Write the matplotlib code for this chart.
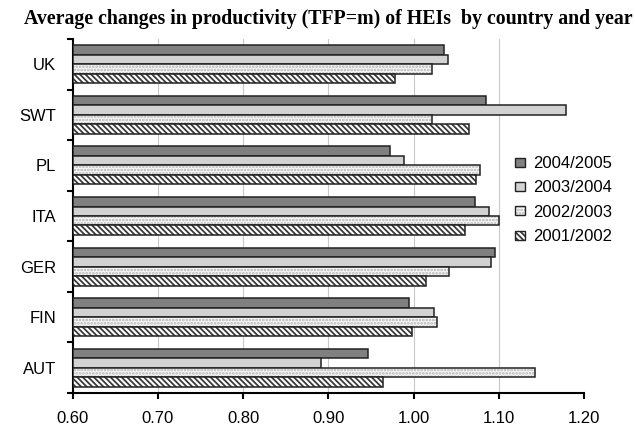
import numpy as np
import matplotlib
matplotlib.use('Agg')
import matplotlib.pyplot as plt

# data (top to bottom)
countries = ['UK', 'SWT', 'PL', 'ITA', 'GER', 'FIN', 'AUT']
years = ['2004/2005', '2003/2004', '2002/2003', '2001/2002']
v_2004_2005 = [1.036, 1.085, 0.972, 1.072, 1.095, 0.995, 0.947]
v_2003_2004 = [1.040, 1.179, 0.989, 1.088, 1.091, 1.024, 0.891]
v_2002_2003 = [1.022, 1.022, 1.078, 1.100, 1.041, 1.028, 1.142]
v_2001_2002 = [0.978, 1.065, 1.073, 1.060, 1.015, 0.998, 0.964]
series = [v_2004_2005, v_2003_2004, v_2002_2003, v_2001_2002]

plt.rcParams['font.family'] = ['Liberation Sans', 'DejaVu Sans']
plt.rcParams['hatch.linewidth'] = 1.3

fig = plt.figure(figsize=(6.35, 4.29), dpi=100)
ax = fig.add_axes([72.7 / 635, 1 - 393 / 429, (584 - 72.7) / 635, (393 - 39) / 429])

# face colour, hatch, hatch colour
styles = [
    ('#808080', None, None),
    ('#d2d2d2', None, None),
    ('#f7f7f7', '.....', '#b4b4b4'),
    ('white', '\\' * 6, '#3a3a3a'),
]

n = len(countries)
h = 0.1875
base = np.arange(n)  # 0 = UK at top after inverting
for i, (vals, (fc, hatch, hc)) in enumerate(zip(series, styles)):
    y = base - 1.5 * h + i * h
    bars = ax.barh(y, np.array(vals) - 0.6, left=0.6, height=h,
                   color=fc, edgecolor='#222222', linewidth=1.1,
                   label=years[i], zorder=3)
    if hatch:
        for b in bars:
            b.set_hatch(hatch)
            b._hatch_color = matplotlib.colors.to_rgba(hc)

ax.set_ylim(n - 0.5, -0.5)
ax.set_xlim(0.6, 1.2)
xt = np.arange(0.6, 1.21, 0.1)
ax.set_xticks(xt)
ax.set_xticklabels(['%.2f' % t for t in xt], fontsize=12)
ax.set_yticks(base)
ax.set_yticklabels(countries, fontsize=12)
ax.set_yticks(np.arange(-0.5, n, 1), minor=True)
ax.tick_params(axis='y', which='major', length=0, pad=12)
ax.tick_params(axis='y', which='minor', length=4, width=1.5, direction='out')
ax.tick_params(axis='x', length=4, width=1.5, direction='out', pad=9)
for t in xt[1:-1]:
    ax.axvline(t, color='#c8c8c8', linewidth=0.8, zorder=0)
for s in ['top', 'right']:
    ax.spines[s].set_visible(False)
for s in ['left', 'bottom']:
    ax.spines[s].set_linewidth(1.5)

leg = ax.legend(loc='center left', bbox_to_anchor=(515 / 635, 1 - 200 / 429),
                bbox_transform=fig.transFigure, frameon=False, fontsize=12,
                borderaxespad=0, borderpad=0,
                handlelength=0.58, handleheight=0.45, handletextpad=0.5,
                labelspacing=0.56)
for p in leg.get_patches():
    p.set_linewidth(1.0)

fig.text(328 / 635, 1 - 24 / 429,
         'Average changes in productivity (TFP=m) of HEIs  by country and year',
         ha='center', va='baseline', fontsize=14.3, fontweight='bold',
         family='Liberation Serif')

fig.savefig('out.png', dpi=100)
